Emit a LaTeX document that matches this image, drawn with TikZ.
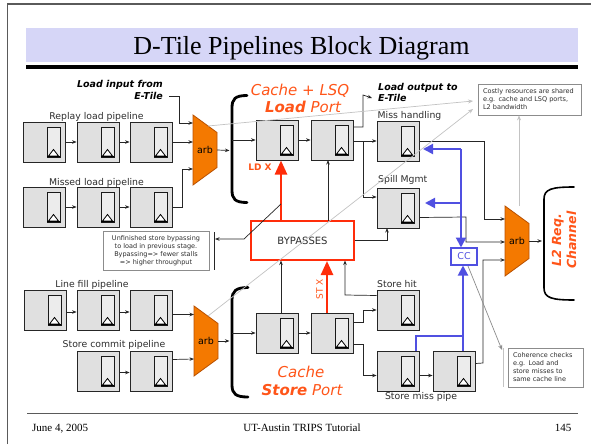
\documentclass[tikz,border=0pt]{standalone}
\usepackage{fontspec}
\setmainfont{Liberation Serif}
\newfontfamily\vfont[ItalicFont={DejaVu Sans Oblique},BoldFont={DejaVu Sans Bold},BoldItalicFont={DejaVu Sans Bold Oblique}]{DejaVu Sans}
\usetikzlibrary{arrows.meta,calc}

\definecolor{titlebg}{RGB}{214,214,247}
\definecolor{boxgray}{RGB}{224,224,224}
\definecolor{latchfill}{RGB}{236,236,236}
\definecolor{arbor}{RGB}{244,121,0}
\definecolor{arbedge}{RGB}{185,80,0}
\definecolor{hot}{RGB}{255,85,25}
\definecolor{redarr}{RGB}{255,45,10}
\definecolor{bluel}{RGB}{80,80,225}
\definecolor{txtgray}{RGB}{45,45,45}
\definecolor{lgray}{RGB}{195,195,195}
\definecolor{mgray}{RGB}{140,140,140}
\definecolor{framecol}{RGB}{90,90,90}

\tikzset{
 pbox/.style={draw=black!85, fill=boxgray, line width=0.8pt, minimum width=42pt, minimum height=40pt, inner sep=0pt},
 latchst/.style={draw=black!90, line width=0.8pt, fill=latchfill},
 arr/.style={draw=black!85, line width=0.7pt, -{Stealth[length=4.5pt,width=3.5pt]}},
 ln/.style={draw=black!85, line width=0.7pt},
 plabel/.style={font=\vfont\fontsize{9.3}{11}\selectfont, text=txtgray, inner sep=0pt, anchor=base},
 arbtext/.style={font=\vfont\fontsize{9.5}{11}\selectfont, inner sep=0pt},
 bracest/.style={line width=2.8pt, line cap=round},
 redarrow/.style={draw=redarr, line width=2.5pt, -{Triangle[length=14pt,width=12pt]}},
 bl/.style={draw=bluel, line width=2pt},
 blarr/.style={bl, -{Triangle[length=10pt,width=10pt]}},
 garr/.style={draw=lgray, line width=0.7pt, -{Stealth[length=5pt,width=4pt]}},
 note/.style={draw=mgray, line width=0.8pt, fill=white, font=\vfont\fontsize{6.5}{8}\selectfont, text=txtgray, inner ysep=0pt},
 hottext/.style={font=\vfont\itshape\fontsize{15}{17}\selectfont, text=hot, inner sep=0pt, anchor=base},
 bitext/.style={font=\vfont\bfseries\itshape\fontsize{9.5}{11.5}\selectfont, inner sep=0pt, anchor=base},
}

\newcommand\pipebox[3]{%
 \node[pbox] (#1) at (#2+21,#3+20) {};
 \draw[latchst] (#2+24,#3+5) rectangle (#2+37,#3+35);
 \filldraw[fill=white, line width=0.8pt] (#2+25.5,#3+34) -- (#2+30.5,#3+27.5) -- (#2+35.5,#3+34) -- cycle;
 \draw[line width=1.5pt] (#2+24,#3+34.3) -- (#2+37,#3+34.3);
}
\newcommand\arbshape[3]{%
 \filldraw[fill=arbor, draw=arbedge, line width=0.8pt] (#2,#3) -- (#2+24,#3+17.5) -- (#2+24,#3+52.5) -- (#2,#3+70) -- cycle;
 \node[arbtext, minimum width=24pt, minimum height=70pt] (#1) at (#2+12,#3+35) {arb};
}

\begin{document}
\begin{tikzpicture}[x=1pt,y=-1pt]
\useasboundingbox (0,0) rectangle (591,444);
\fill[white] (0,0) rectangle (591,444);
\draw[framecol, line width=1.6pt] (7.5,444) -- (7.5,4) -- (591,4);

% title
\fill[titlebg] (26,28) rectangle (578,62);
\node[font=\fontsize{26}{30}\selectfont, inner sep=0pt, anchor=base] (title) at (301.5,55) {D-Tile Pipelines Block Diagram};
\draw[line width=4pt] (26,67) -- (578,67);

% footer
\draw[framecol, line width=0.8pt] (27,413) -- (578,413);
\node[font=\fontsize{11}{13}\selectfont, inner sep=0pt, anchor=base west] (date) at (32,431.5) {June 4, 2005};
\node[font=\fontsize{11}{13}\selectfont, inner sep=0pt, anchor=base] (tut) at (302,431.5) {UT-Austin TRIPS Tutorial};
\node[font=\fontsize{11}{13}\selectfont, inner sep=0pt, anchor=base] (pg) at (563,431.5) {145};

% left pipelines
\node[plabel] (lrep) at (96.5,119) {Replay load pipeline};
\pipebox{r1}{23}{122}\pipebox{r2}{77}{122}\pipebox{r3}{130}{122}
\node[plabel] (lmis) at (96.5,185) {Missed load pipeline};
\pipebox{m1}{23}{187}\pipebox{m2}{77}{187}\pipebox{m3}{130}{187}
\node[plabel] (lfill) at (92,287) {Line fill pipeline};
\pipebox{f1}{24}{290}\pipebox{f2}{77}{290}\pipebox{f3}{130}{290}
\node[plabel] (lsc) at (114,347.5) {Store commit pipeline};
\pipebox{c1}{77}{351}\pipebox{c2}{130}{351}

\draw[arr] (r1) -- (r2); \draw[arr] (r2) -- (r3);
\draw[arr] (m1) -- (m2); \draw[arr] (m2) -- (m3);
\draw[arr] ([yshift=-2pt]f1.east) -- ([yshift=-2pt]f2.west); \draw[arr] ([yshift=-2pt]f2.east) -- ([yshift=-2pt]f3.west);
\draw[arr] ([yshift=-1.5pt]c1.east) -- ([yshift=-1.5pt]c2.west);

% arbiters
\arbshape{arbA}{193}{115}
\arbshape{arbB}{194}{306}
\arbshape{arbC}{505}{206}

% load input text
\node[bitext, anchor=base east] (lin1) at (163,87.7) {Load input from};
\node[bitext, anchor=base east] (lin2) at (163,99) {E-Tile};
\draw[arr] ([xshift=6pt,yshift=3pt]lin2.base east) -- (179,96) -- (179,123) -- (193,123);

\draw[arr] (r3.east) -- (193,142);
\draw[arr] (m3.east) -- (182,207) -- (182,169) -- (193,169);
\draw[arr] ([yshift=-4.5pt]f3.east) -- (194,314.5);
\draw[arr] ([yshift=11.5pt]c2.east) -- (194,359);

% braces
\draw[bracest] (247,95.5) .. controls (235,95.5) and (232,99) .. (232,108) -- (232,190) .. controls (232,199) and (235,202.5) .. (247,202.5);
\draw[bracest] (248,287.5) .. controls (236,287.5) and (232,291) .. (232,300) -- (232,385) .. controls (232,394) and (236,397) .. (248,397);
\draw[line width=1.6pt, line cap=round] (574,187) .. controls (552,187) and (544,189) .. (544,199) -- (544,288) .. controls (544,298) and (552,300) .. (574,300);

\draw[arr] (arbA.east) -- (229.5,150.5);
\draw[arr] (arbB.east) -- (229.5,341);
\draw[arr] (arbC.east) -- (542,241);

% port titles
\node[hottext] (cl) at (300,95) {Cache + LSQ};
\node[hottext] (lp) at (303,112.3) {\textbf{Load} Port};
\node[hottext] (cs) at (301,377) {Cache};
\node[hottext] (sp) at (302,395) {\textbf{Store} Port};

% load port boxes
\pipebox{L1}{256}{120}\pipebox{L2}{311}{120}
\node[plabel, anchor=base west] (lmh) at (377.5,118.3) {Miss handling};
\pipebox{MH}{377}{121}
\node[plabel, anchor=base west] (lspl) at (378,182) {Spill Mgmt};
\pipebox{SP}{377}{188}

\draw[arr] (232,140) -- (L1.west);
\draw[arr] (L1) -- (L2);
\node[bitext, anchor=base west] (lout1) at (378,90.5) {Load output to};
\node[bitext, anchor=base west] (lout2) at (378,101.5) {E-Tile};
\draw[arr] ([yshift=13pt]L2.east) -- (363,127) -- (363,95) -- ([xshift=-6pt,yshift=3.5pt]lout2.base west);
\draw[arr] (L2.east |- MH.west) -- (MH.west);
\draw[arr] (363,141) |- ([yshift=11pt]SP.west);

% store port boxes
\pipebox{S1}{256}{313}\pipebox{S2}{311}{313}
\node[plabel, anchor=base west] (lsh) at (377,287) {Store hit};
\pipebox{SH}{377}{290}
\pipebox{SM1}{377}{351}\pipebox{SM2}{433}{351}
\node[plabel] (lsm) at (421,399) {Store miss pipe};

\draw[arr] (232,333) -- (S1.west);
\draw[arr] (S1) -- (S2);
\draw[arr] ([yshift=11pt]S2.east) -- (363,322) |- (SH.west);
\draw[arr] ([yshift=-11pt]S2.east) -- (363,344) |- ([yshift=-4.5pt]SM1.west);
\draw[arr] ([yshift=-4.5pt]SM1.east) -- ([yshift=-4.5pt]SM2.west);

% bypasses
\node[draw=redarr, line width=1.8pt, fill=white, minimum width=103pt, minimum height=39pt, inner sep=0pt, font=\vfont\fontsize{10}{12}\selectfont, text=txtgray] (byp) at (302.5,240.5) {BYPASSES};
\draw[redarrow] (281,221) -- (281,160.5);
\draw[redarrow] (327,313) -- (327,261);
\node[font=\vfont\bfseries\fontsize{9}{11}\selectfont, text=hot, inner sep=0pt, anchor=base] (ldx) at (260,170) {LD X};
\node[font=\vfont\fontsize{9}{11}\selectfont, text=hot, inner sep=0pt, rotate=90] (stx) at (319.5,289) {ST X};
\draw[arr] (328,221) -- (328,160);
\draw[arr] (byp.east) -- (387,240.5) -- (387,228);
\draw[arr] (281,313) -- (281,260.5);
\draw[arr] ([yshift=14.5pt]SH.west) -- (345,295) -- (345,260.5);

% unfinished note
\node[note, align=center, minimum width=106pt, minimum height=39pt] (unf) at (156,250.5) {Unfinished store bypassing\\to load in previous stage.\\Bypassing=> fewer stalls\\=> higher throughput};
\draw[ln] (214,232) -- (214,270);
\draw[arr] (281,204) -- (244,239) -- (215,239);

% arb C inputs
\draw[arr] (MH.east) -- (484,141) -- (484,219) -- (505,219);
\draw[arr] ([yshift=-9.5pt]SP.east) -- (466,217) -- (466,242) -- (505,242);
\draw[arr] ([yshift=7.5pt]SM2.east) -- (483,363) -- (483,260) -- (505,260);

% CC and blue paths
\node[draw=bluel, line width=1.6pt, fill=white, minimum width=26pt, minimum height=17pt, inner sep=0pt, font=\vfont\fontsize{9.5}{11}\selectfont, text=bluel] (cc) at (464,256.5) {CC};
\draw[blarr] (461,149) -- (423,149);
\draw[blarr] (461,203) -- (425,203);
\draw[blarr] (461,149) -- (461,247.5);
\draw[blarr] (463,351) -- (463,265.5);
\draw[bl] (416,351) -- (416,336) -- (463,336);

% notes on right
\node[note, align=left, text width=93pt, inner xsep=5pt, minimum height=31pt] (costly) at (529.5,99.5) {Costly resources are shared\\e.g. cache and LSQ ports,\\L2 bandwidth};
\node[note, align=left, text width=65pt, inner xsep=5pt, minimum height=39pt] (coh) at (545.5,367.5) {Coherence checks\\e.g. Load and\\store misses to\\same cache line};

\draw[garr] (208,126) -- (473,101);
\draw[garr] (208,316) -- (473,109);
\draw[garr] (519,206) -- (costly.south -| 519,0);
\draw[lgray, line width=1pt] (503,348) -- (503,387);
\draw[draw=mgray, line width=0.7pt, -{Stealth[length=5pt,width=4pt]}] (468,266) -- (502,350);

% L2 channel
\node[rotate=90, align=center, font=\vfont\bfseries\itshape\fontsize{12.5}{15}\selectfont, text=hot, inner sep=0pt] (l2) at (564,240) {L2 Req.\\Channel};
\end{tikzpicture}
\end{document}
